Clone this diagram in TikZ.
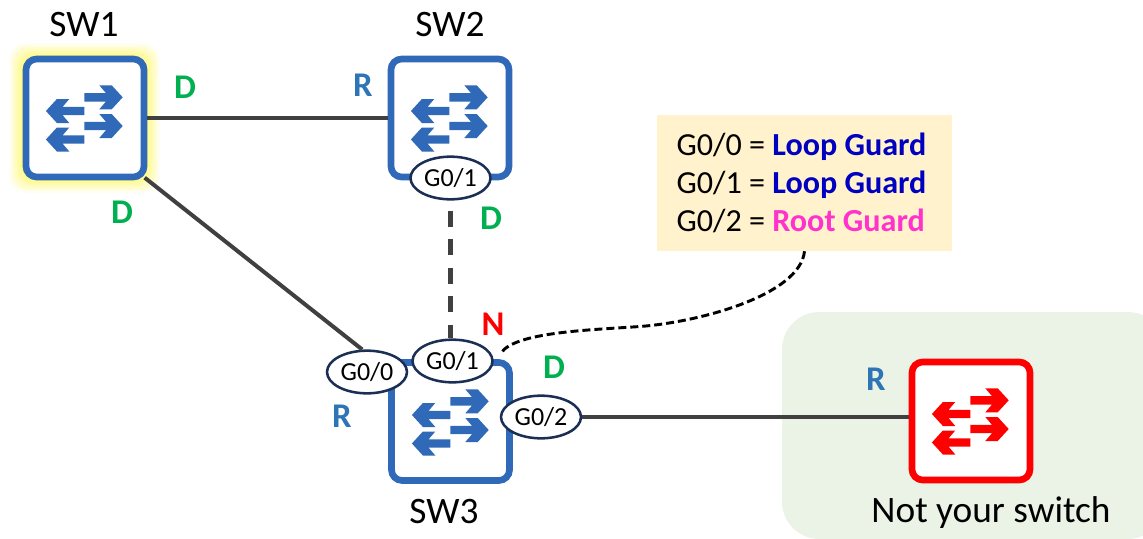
\documentclass[tikz,border=0pt]{standalone}
\usepackage{fontspec}
\setmainfont{Carlito}
\usetikzlibrary{shapes.geometric}
\definecolor{SwBlue}{HTML}{2F69B8}
\definecolor{LinkGray}{HTML}{404040}
\definecolor{PortNavy}{HTML}{1B2F55}
\definecolor{LblGreen}{HTML}{00B050}
\definecolor{LblBlue}{HTML}{2E75B6}
\definecolor{NoteBg}{HTML}{FFF2CC}
\definecolor{ZoneBg}{HTML}{EBF3E7}
\definecolor{GuardBlue}{HTML}{0000C0}
\definecolor{GuardPink}{HTML}{FF33CC}
\tikzset{
  swbox/.style={draw=#1, line width=5pt, fill=white, rounded corners=8pt, minimum width=88.5pt, minimum height=88.5pt},
  port/.style={ellipse, draw=PortNavy, line width=1.9pt, fill=white, inner sep=0pt, minimum width=60pt, minimum height=32pt, font=\fontsize{19.5}{22}\selectfont},
  link/.style={draw=LinkGray, line width=3pt},
  role/.style={font=\fontsize{26}{28}\selectfont\bfseries, inner sep=0pt},
  swname/.style={font=\fontsize{28}{32}\selectfont, inner sep=0pt},
  swarrows/.pic={
    \foreach \ry in {-20.7,8} {%
      \fill[pic actions] (14.3,\ry-12) -- (26.7,\ry-12) -- (37.7,\ry) -- (26.7,\ry+12) -- (14.3,\ry+12) -- (21,\ry+4.2) -- (-0.7,\ry+4.2) -- (-0.7,\ry-4.2) -- (21,\ry-4.2) -- cycle;}
    \foreach \ry in {-7,21.5} {%
      \fill[pic actions] (-15.7,\ry-12) -- (-28.1,\ry-12) -- (-39.1,\ry) -- (-28.1,\ry+12) -- (-15.7,\ry+12) -- (-22.4,\ry+4.2) -- (-0.7,\ry+4.2) -- (-0.7,\ry-4.2) -- (-22.4,\ry-4.2) -- cycle;}
  }
}
\begin{document}
\begin{tikzpicture}[x=0.75pt, y=-0.75pt]
\useasboundingbox (0,0) rectangle (1143,539);
% zone of the other switch
\begin{scope}
\clip (0,0) rectangle (1143,539);
\fill[ZoneBg, rounded corners=28pt] (782,312) rectangle (1165,539);
\end{scope}
% glow of SW1
\foreach \g in {13,11,9,7,5,3,1} {%
  \pgfmathsetmacro{\mix}{50-3.5*\g}
  \fill[yellow!\mix!white, rounded corners=12pt] (22-\g,56-\g) rectangle (147+\g,180+\g);}
% switches
\node[swbox=SwBlue] (sw1) at (85,118) {};
\node[swbox=SwBlue] (sw2) at (450,118) {};
\node[swbox=SwBlue] (sw3) at (450.5,421.5) {};
\node[swbox=red] (sw4) at (971,421) {};
\pic[fill=SwBlue] at (85,118) {swarrows};
\pic[fill=SwBlue] at (450,118) {swarrows};
\pic[fill=SwBlue] at (451,422) {swarrows};
\pic[fill=red] at (971,421) {swarrows};
% ports
\node[port] (p2g1) at (450.5,178) {G0/1};
\node[port] (g00) at (367,372) {G0/0};
\node[port] (g01) at (452.5,361) {G0/1};
\node[port] (g02) at (541,417) {G0/2};
% links
\draw[link] (sw1.east) -- (sw2.west);
\draw[link] ([xshift=-2pt,yshift=2pt]sw1.south east) -- (g00.102);
\draw[link, line width=3.3pt, dash pattern=on 12pt off 9.4pt] ([yshift=-7.5pt]p2g1.south) -- (p2g1.south |- g01.north);
\draw[link] (g02.east) -- (sw4.west |- g02.east);
% note
\node[fill=NoteBg, minimum width=221.25pt, minimum height=102pt, inner sep=0pt, align=left, font=\fontsize{24.1}{28.5}\selectfont] (note) at (804.5,183) {G0/0 = \textcolor{GuardBlue}{\textbf{Loop Guard}}\hspace*{4.5pt}\\G0/1 = \textcolor{GuardBlue}{\textbf{Loop Guard}}\\G0/2 = \textcolor{GuardPink}{\textbf{Root Guard}}};
\coordinate (tail) at (501,353);
\draw[line width=2.2pt, dash pattern=on 6pt off 3pt] (note.south) .. controls (800,295) and (700,322) .. (640,326.5) .. controls (590,330) and (515,332) .. (tail);
% roles
\node[role, text=LblGreen] (r1) at (185,87) {D};
\node[role, text=LblBlue] (r2) at (363,85) {R};
\node[role, text=LblGreen] (r3) at (122,212) {D};
\node[role, text=LblGreen] (r4) at (491,218) {D};
\node[role, text=red] (r5) at (493,324) {N};
\node[role, text=LblGreen] (r6) at (554,367) {D};
\node[role, text=LblBlue] (r7) at (342,416) {R};
\node[role, text=LblBlue] (r8) at (876,379) {R};
% names
\node[swname] (n1) at (84,25) {SW1};
\node[swname] (n2) at (450,25) {SW2};
\node[swname] (n3) at (444,512) {SW3};
\node[swname] (n4) at (991,513) {Not your switch};
\end{tikzpicture}
\end{document}
